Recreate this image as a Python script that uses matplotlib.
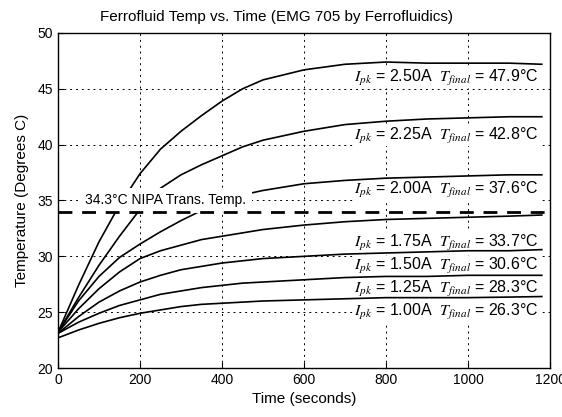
import matplotlib
matplotlib.use("Agg")
import matplotlib.pyplot as plt
import numpy as np

plt.rcParams['font.family'] = ['Liberation Sans', 'DejaVu Sans']
plt.rcParams['mathtext.fontset'] = 'stix'

# ---- data ----
t = [0, 50, 100, 150, 200, 250, 300, 350, 400, 450, 500, 600, 700, 800, 900, 1000, 1100, 1180]

temp_100 = [22.7, 23.4, 24.0, 24.5, 24.9, 25.2, 25.5, 25.7, 25.8, 25.9, 26.0, 26.1, 26.2, 26.3, 26.3, 26.3, 26.35, 26.4]
temp_125 = [23.1, 24.1, 24.9, 25.6, 26.1, 26.6, 26.9, 27.2, 27.4, 27.6, 27.7, 27.9, 28.1, 28.2, 28.2, 28.3, 28.3, 28.3]
temp_150 = [23.1, 24.6, 25.9, 26.9, 27.7, 28.3, 28.8, 29.1, 29.4, 29.6, 29.8, 30.0, 30.2, 30.3, 30.4, 30.5, 30.5, 30.6]
temp_175 = [23.2, 25.3, 27.1, 28.6, 29.8, 30.5, 31.0, 31.5, 31.8, 32.1, 32.4, 32.8, 33.1, 33.3, 33.4, 33.5, 33.6, 33.7]
temp_200 = [23.2, 26.0, 28.2, 29.9, 31.1, 32.2, 33.2, 34.1, 34.9, 35.5, 35.9, 36.5, 36.8, 37.0, 37.1, 37.2, 37.3, 37.3]
temp_225 = [23.2, 26.3, 29.2, 31.8, 34.2, 36.1, 37.3, 38.2, 39.0, 39.8, 40.4, 41.2, 41.8, 42.1, 42.3, 42.4, 42.5, 42.5]
temp_250 = [23.2, 27.4, 31.3, 34.6, 37.4, 39.6, 41.2, 42.6, 43.9, 45.0, 45.8, 46.7, 47.2, 47.4, 47.3, 47.3, 47.3, 47.2]

series = [temp_100, temp_125, temp_150, temp_175, temp_200, temp_225, temp_250]
currents = ["1.00", "1.25", "1.50", "1.75", "2.00", "2.25", "2.50"]
t_final = ["26.3", "28.3", "30.6", "33.7", "37.6", "42.8", "47.9"]
label_y = [25.0, 27.1, 29.1, 31.2, 35.9, 40.8, 46.0]

nipa_temp = 34.0
nipa_label = "34.3°C NIPA Trans. Temp."

x_ticks = [0, 200, 400, 600, 800, 1000, 1200]
y_ticks = [20, 25, 30, 35, 40, 45, 50]

# ---- figure ----
fig = plt.figure(figsize=(5.62, 4.17), dpi=100)
ax = fig.add_axes([58/562, 1-368/417, (550-58)/562, (368-33)/417])

for s in series:
    ax.plot(t, s, color='black', lw=1.2, zorder=2)

ax.axhline(nipa_temp, color='black', lw=2.0, ls=(0, (5, 3.5)), zorder=4)
ax.text(66, 35.0, nipa_label, fontsize=10, ha='left', va='center', zorder=3,
        bbox=dict(facecolor='white', edgecolor='none', pad=4.0))

for cur, tf, y in zip(currents, t_final, label_y):
    ax.text(1172, y, r"$I_{pk}$" + f" = {cur}A  " + r"$T_{final}$" + f" = {tf}°C",
            fontsize=11.5, ha='right', va='center', zorder=1.8,
            bbox=dict(facecolor='white', edgecolor='none', pad=0.5))

ax.set_xlim(0, 1200)
ax.set_ylim(20, 50)
ax.set_xticks(x_ticks)
ax.set_yticks(y_ticks)
ax.tick_params(direction='in', length=4, labelsize=10, colors='black')
ax.grid(True, color='black', ls=(0, (2, 4)), lw=0.7, zorder=1)
for sp in ax.spines.values():
    sp.set_linewidth(1.0)

fig.text(276/562, 1-17/417, "Ferrofluid Temp vs. Time (EMG 705 by Ferrofluidics)",
         fontsize=11, ha='center', va='center')
ax.set_xlabel("Time (seconds)", fontsize=11)
ax.set_ylabel("Temperature (Degrees C)", fontsize=11, labelpad=6)

fig.savefig("out.png", dpi=100)
